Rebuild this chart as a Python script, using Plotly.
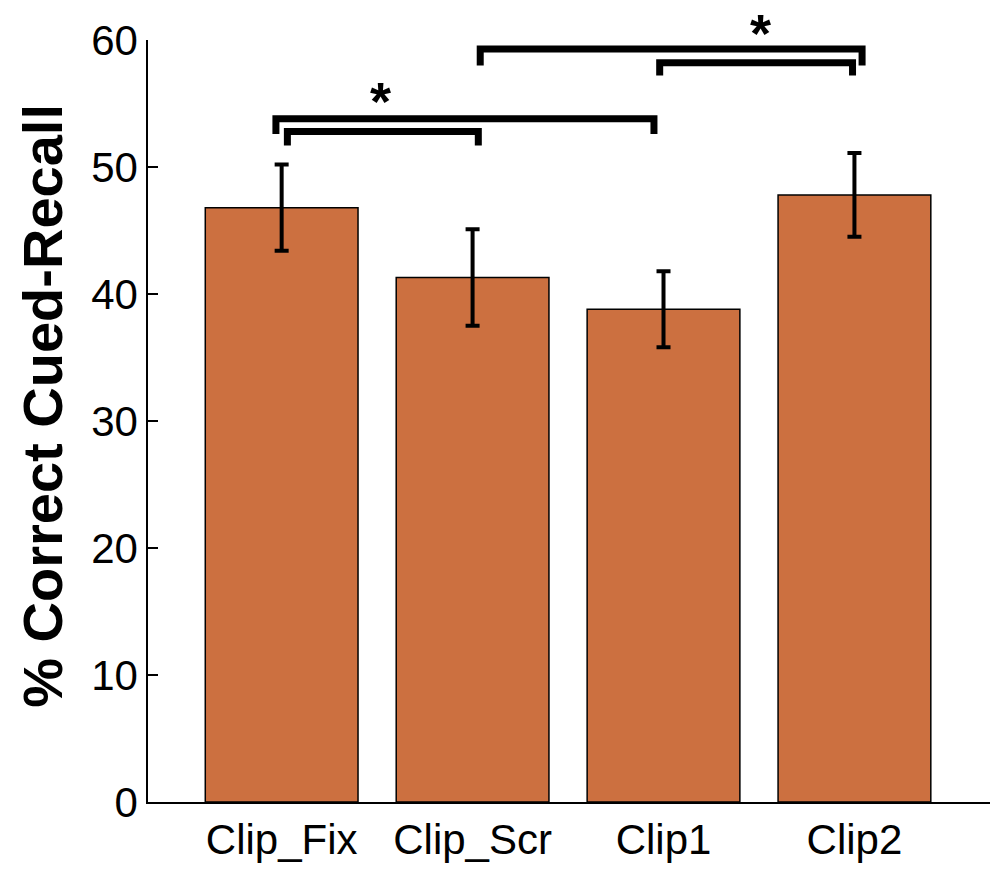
import plotly.graph_objects as go

categories = ["Clip_Fix", "Clip_Scr", "Clip1", "Clip2"]
recall_mean = [46.8, 41.3, 38.8, 47.8]
recall_err = [3.4, 3.8, 3.0, 3.3]
y_ticks = [0, 10, 20, 30, 40, 50, 60]
y_max = 60

# significance brackets
bracket_x_left = [-0.03, 0.03, 1.04, 1.98]
bracket_x_right = [1.95, 1.03, 3.04, 2.99]
bracket_y_top = [53.8, 52.8, 59.3, 58.2]
bracket_y_leg = [52.6, 51.7, 58.0, 57.2]
star_x = [0.52, 2.51]
star_top_y = [57.6, 63.0]   # top of the star's text box, in data units

bar_color = "#CC7040"
font_family = "Liberation Sans, Arial, sans-serif"

fig = go.Figure()

fig.add_trace(go.Bar(
    x=list(range(len(categories))),
    y=recall_mean,
    width=0.8,
    marker=dict(color=bar_color, line=dict(color="black", width=1.5)),
    error_y=dict(type="data", array=recall_err, visible=True,
                 color="black", thickness=4, width=7),
    showlegend=False,
))

for xl, xr, yt, yl in zip(bracket_x_left, bracket_x_right, bracket_y_top, bracket_y_leg):
    fig.add_trace(go.Scatter(
        x=[xl, xl, xr, xr],
        y=[yl, yt, yt, yl],
        mode="lines",
        line=dict(color="black", width=7),
        showlegend=False,
        hoverinfo="skip",
        cliponaxis=False,
    ))

for sx, sy in zip(star_x, star_top_y):
    fig.add_annotation(x=sx, y=sy / y_max, xref="x", yref="paper", text="<b>*</b>",
                       showarrow=False, xanchor="center", yanchor="top",
                       borderpad=0,
                       font=dict(family=font_family, size=54, color="black"))

fig.add_annotation(x=-0.1247, y=0.52, xref="paper", yref="paper",
                   text="<b>% Correct Cued-Recall</b>", textangle=-90,
                   showarrow=False, xanchor="center", yanchor="middle",
                   font=dict(family=font_family, size=56, color="black"))

fig.update_layout(
    template="none",
    width=1000, height=870,
    margin=dict(l=148, r=10, t=39.5, b=67.5, autoexpand=False),
    paper_bgcolor="white", plot_bgcolor="white",
    font=dict(family=font_family, color="black"),
    xaxis=dict(range=[-0.70, 3.71], tickmode="array", automargin=False,
               tickvals=list(range(len(categories))), ticktext=categories,
               showgrid=False, zeroline=False, showline=True,
               linecolor="black", linewidth=1.5, ticks="",
               tickfont=dict(size=42, family=font_family, color="black")),
    yaxis=dict(range=[0, y_max], tickmode="array", tickvals=y_ticks, automargin=False,
               showgrid=False, zeroline=False, showline=True,
               linecolor="black", linewidth=1.5, ticks="inside",
               ticklen=10, tickwidth=1.5, tickcolor="black",
               tickfont=dict(size=42, family=font_family, color="black")),
)

fig.write_html("out.html", config={"displayModeBar": False},
               post_script="document.body.style.margin='0px';")
